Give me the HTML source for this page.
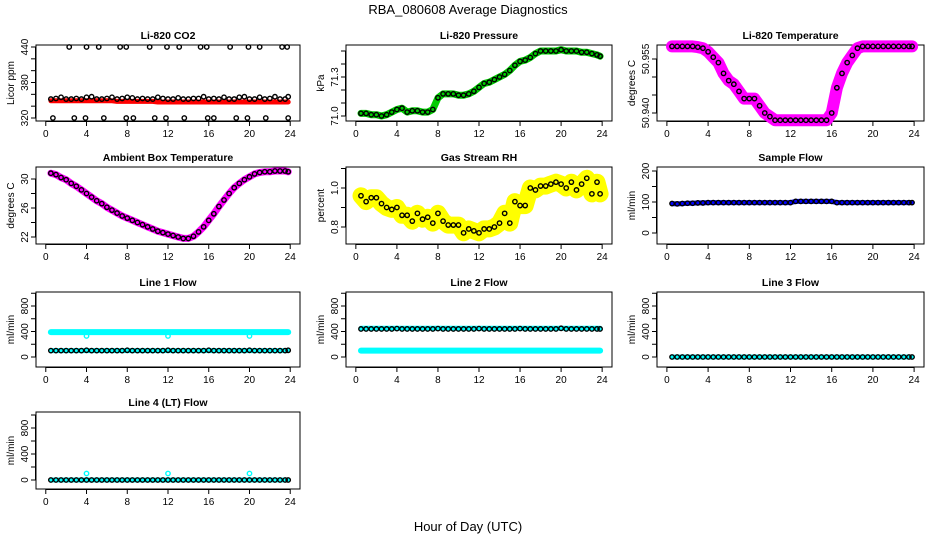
<!DOCTYPE html>
<html><head><meta charset="utf-8"><style>
html,body{margin:0;padding:0;background:#fff;}
svg text{font-family:"Liberation Sans",sans-serif;}
</style></head><body>
<svg id="chart" width="936" height="540" viewBox="0 0 936 540" xmlns="http://www.w3.org/2000/svg">
<text x="468" y="14" text-anchor="middle" font-size="13">RBA_080608  Average Diagnostics</text>
<text x="468" y="531" text-anchor="middle" font-size="13">Hour of Day (UTC)</text>
</svg>
<script>
const hours=[0.5,1,1.5,2,2.5,3,3.5,4,4.5,5,5.5,6,6.5,7,7.5,8,8.5,9,9.5,10,10.5,11,11.5,12,12.5,13,13.5,14,14.5,15,15.5,16,16.5,17,17.5,18,18.5,19,19.5,20,20.5,21,21.5,22,22.5,23,23.5,23.8];
const xTicks=[0,4,8,12,16,20,24];
const co2Black=[352,353,355,352,352,353,352,355,356,352,352,353,355,352,353,355,354,352,353,352,352,355,353,352,352,354,352,352,353,353,356,352,353,352,355,352,352,355,356,352,352,355,352,353,356,352,352,356];
const co2Red=[349,349,349,349,349,349,349,349,349,349,349,349,349,348,348,348,348,348,348,348,348,347,347,347,347,347,347,347,347,347,347,347,347,347,347,347,347,347,347,347,347,347,347,347,347,347,347,347];
const co2HighHours=[2.3,4.0,5.2,7.3,7.9,10.2,11.9,13.1,15.2,15.8,18.1,19.9,21.0,23.2,23.7];
const co2LowHours=[0.7,2.8,3.9,5.7,7.9,8.6,10.7,11.8,13.6,15.9,16.5,18.7,19.8,21.6,23.8];
const pressure=[71.02,71.02,71.01,71.01,71.0,71.01,71.03,71.05,71.06,71.03,71.04,71.04,71.03,71.03,71.05,71.14,71.17,71.17,71.17,71.16,71.16,71.17,71.19,71.22,71.25,71.26,71.28,71.3,71.32,71.35,71.39,71.42,71.43,71.45,71.48,71.5,71.5,71.5,71.5,71.51,71.5,71.5,71.5,71.49,71.49,71.48,71.47,71.46];
const liTemp=[50.9585,50.9585,50.9585,50.9585,50.9585,50.9583,50.958,50.957,50.9555,50.954,50.951,50.949,50.948,50.946,50.944,50.944,50.944,50.942,50.940,50.939,50.938,50.938,50.938,50.938,50.938,50.938,50.938,50.938,50.938,50.938,50.938,50.940,50.947,50.951,50.954,50.956,50.958,50.9585,50.9585,50.9585,50.9585,50.9585,50.9585,50.9585,50.9585,50.9585,50.9585,50.9585];
const ambient=[30.8,30.6,30.2,29.9,29.4,29.0,28.5,28.0,27.5,27.0,26.6,26.1,25.7,25.3,24.9,24.6,24.3,24.0,23.7,23.4,23.1,22.8,22.6,22.4,22.2,22.0,21.8,21.8,22.1,22.7,23.4,24.3,25.2,26.2,27.1,28.0,28.8,29.4,29.9,30.3,30.7,30.9,31.0,31.0,31.1,31.1,31.1,31.0];
const rh=[0.96,0.93,0.95,0.95,0.92,0.90,0.89,0.90,0.86,0.86,0.83,0.87,0.84,0.85,0.82,0.87,0.83,0.81,0.81,0.81,0.77,0.79,0.78,0.77,0.79,0.79,0.80,0.82,0.87,0.82,0.93,0.91,0.91,1.0,0.99,1.01,1.01,1.02,1.03,1.02,1.00,1.03,0.99,1.02,1.05,0.97,1.03,0.97];
const sampleFlow=[95,94,95,96,96,97,97,98,98,98,98,98,98,98,98,98,98,98,98,98,98,98,98,98,102,102,102,102,102,102,102,102,98,98,98,98,98,98,98,98,98,98,98,98,98,98,98,98];
const line1High=[390,390,390,390,390,390,390,390,390,390,390,390,390,390,390,390,390,390,390,390,390,390,390,390,390,390,390,390,390,390,390,390,390,390,390,390,390,390,390,390,390,390,390,390,390,390,390,390];
const line1Low=[100,100,100,100,100,100,100,100,100,100,100,100,100,100,100,100,100,100,100,100,100,100,100,100,100,100,100,100,100,100,100,100,100,100,100,100,100,100,100,100,100,100,100,100,100,100,100,100];
const line1Black=[100,100,100,100,100,100,100,105,100,100,100,100,100,100,100,105,100,100,100,100,100,100,100,105,100,100,100,100,100,100,100,105,100,100,100,100,100,100,100,105,100,100,100,100,100,100,100,105];
const line2High=[450,450,450,450,450,450,450,450,450,450,450,450,450,450,450,450,450,450,450,450,450,450,450,450,450,450,450,450,450,450,450,450,450,450,450,450,450,450,450,450,450,450,450,450,450,450,450,450];
const line2Black=[440,440,440,440,440,440,440,445,440,440,440,440,440,440,440,445,440,440,440,440,440,440,440,445,440,440,440,440,440,440,440,445,440,440,440,440,440,440,440,450,440,440,440,440,440,440,440,440];
const zeroFlow=[0,0,0,0,0,0,0,0,0,0,0,0,0,0,0,0,0,0,0,0,0,0,0,0,0,0,0,0,0,0,0,0,0,0,0,0,0,0,0,0,0,0,0,0,0,0,0,0];
const spikeHours=[4,12,20];
const line1Dips=[330,330,330];
const line4Spikes=[100,100,100];

const svg=document.getElementById('chart');
const NS='http://www.w3.org/2000/svg';
function mk(tag,attrs,parent){const e=document.createElementNS(NS,tag);for(const k in attrs)e.setAttribute(k,attrs[k]);(parent||svg).appendChild(e);return e;}
const cols=[[36,300],[346,612],[657,924]];
const rows=[[45,121],[167,244],[292,367],[412,489]];
function panel(name,title,ytitle,col,row,v1,p1,v2,p2,ticks,labels,fmt){
  const [x0,x1]=cols[col],[y0,y1]=rows[row];
  const g=mk('g',{});
  
  
  const xs=h=>x0+(x1-x0)*(h+0.96)/25.92;
  const ys=v=>p1+(v-v1)*(p2-p1)/(v2-v1);
  const t=mk('text',{x:(x0+x1)/2,y:y0-6,'text-anchor':'middle','font-size':'10.5','font-weight':'bold'},g);
  t.textContent=title;
  
  
  const box=mk('rect',{x:x0,y:y0,width:x1-x0,height:y1-y0,fill:'none',stroke:'#000','stroke-width':1},g);
  
  
  xTicks.forEach(h=>{const x=xs(h);mk('line',{x1:x,x2:x,y1:y1,y2:y1+5,stroke:'#000'},g);
    const l=mk('text',{x:x,y:y1+16,'text-anchor':'middle','font-size':'10'},g);l.textContent=h;
    
    });
  mk('line',{x1:xs(0),x2:xs(24),y1:y1+0.5,y2:y1+0.5,stroke:'#000'},g);
  const yl=[Math.min(...ticks.map(ys)),Math.max(...ticks.map(ys))];
  mk('line',{x1:x0-0.5,x2:x0-0.5,y1:yl[0],y2:yl[1],stroke:'#000'},g);
  ticks.forEach(v=>{const y=ys(v);mk('line',{x1:x0-5,x2:x0,y1:y,y2:y,stroke:'#000'},g);});
  labels.forEach(v=>{const y=ys(v);const l=mk('text',{x:x0-8,y:y,'text-anchor':'middle','font-size':'10',transform:`rotate(-90 ${x0-8} ${y})`},g);
    l.textContent=fmt(v);
    
    });
  const yt=mk('text',{x:x0-22,y:(y0+y1)/2,'text-anchor':'middle','font-size':'10',transform:`rotate(-90 ${x0-22} ${(y0+y1)/2})`},g);
  yt.textContent=ytitle;
  
  
  return {g,xs,ys};
}
function band(P,name,hs,vals,color,w){
  const pts=hs.map((h,i)=>P.xs(h).toFixed(1)+','+P.ys(vals[i]).toFixed(1)).join(' ');
  const l=mk('polyline',{points:pts,fill:'none',stroke:color,'stroke-width':w,'stroke-linecap':'round','stroke-linejoin':'round'},P.g);
  
  
}
function pts(P,name,hs,vals,color){
  hs.forEach((h,i)=>{const c=mk('circle',{cx:P.xs(h),cy:P.ys(vals[i]),r:2.2,fill:'none',stroke:color,'stroke-width':1.4},P.g);
    
    });
}
const f0=v=>String(v), f1=v=>v.toFixed(1), f3=v=>v.toFixed(3);
let P=panel('co2','Li-820 CO2','Licor ppm',0,0,320,118,440,47,[320,340,360,380,400,420,440],[320,380,440],f0);
band(P,'co2-band',hours,co2Red,'#f00',5);
pts(P,'co2-point',hours,co2Black,'#000');
pts(P,'co2-high-outlier',co2HighHours,co2HighHours.map(()=>440),'#000');
pts(P,'co2-low-outlier',co2LowHours,co2LowHours.map(()=>320),'#000');
P=panel('pressure','Li-820 Pressure','kPa',1,0,71.0,116,71.3,77,[71.0,71.1,71.2,71.3,71.4,71.5],[71.0,71.3],f1);
band(P,'pressure-band',hours,pressure,'#0c0',7);
pts(P,'pressure-point',hours,pressure,'#000');
P=panel('li-temp','Li-820 Temperature','degrees C',2,0,50.940,113,50.955,59,[50.940,50.945,50.950,50.955],[50.940,50.955],f3);
band(P,'li-temp-band',hours,liTemp,'#f0f',12);
pts(P,'li-temp-point',hours,liTemp,'#000');
P=panel('ambient','Ambient Box Temperature','degrees C',0,1,22,237,30,179,[22,24,26,28,30],[22,26,30],f0);
band(P,'ambient-band',hours,ambient,'#f0f',7);
pts(P,'ambient-point',hours,ambient,'#000');
P=panel('rh','Gas Stream RH','percent',1,1,0.8,227,1.0,188,[0.8,0.9,1.0,1.1],[0.8,1.0],f1);
band(P,'rh-band',hours,rh,'#ff0',17);
pts(P,'rh-point',hours,rh,'#000');
P=panel('sample-flow','Sample Flow','ml/min',2,1,0,233,200,171,[0,50,100,150,200],[0,100,200],f0);
band(P,'sample-flow-band',hours,sampleFlow,'#00f',5);
pts(P,'sample-flow-point',hours,sampleFlow,'#000');
const ft=[0,200,400,600,800,1000], fl=[0,400,800];
P=panel('line1','Line 1 Flow','ml/min',0,2,0,357,800,306,ft,fl,f0);
band(P,'line1-high-band',hours,line1High,'#0ff',6);
band(P,'line1-low-band',hours,line1Low,'#0ff',5);
pts(P,'line1-dip',spikeHours,line1Dips,'#0ff');
pts(P,'line1-point',hours,line1Black,'#000');
P=panel('line2','Line 2 Flow','ml/min',1,2,0,357,800,306,ft,fl,f0);
band(P,'line2-high-band',hours,line2High,'#0ff',5);
band(P,'line2-low-band',hours,line1Low,'#0ff',6);
pts(P,'line2-point',hours,line2Black,'#000');
P=panel('line3','Line 3 Flow','ml/min',2,2,0,357,800,306,ft,fl,f0);
band(P,'line3-band',hours,zeroFlow,'#0ff',5);
pts(P,'line3-point',hours,zeroFlow,'#000');
P=panel('line4','Line 4 (LT) Flow','ml/min',0,3,0,480,800,428,ft,fl,f0);
band(P,'line4-band',hours,zeroFlow,'#0ff',5);
pts(P,'line4-spike',spikeHours,line4Spikes,'#0ff');
pts(P,'line4-point',hours,zeroFlow,'#000');
</script>
</body></html>
